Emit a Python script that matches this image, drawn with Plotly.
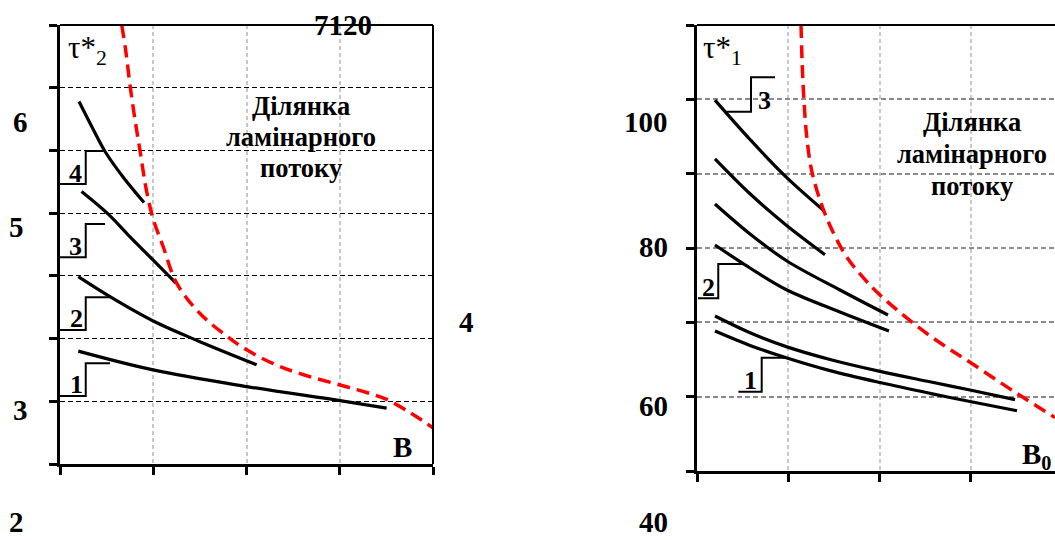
import plotly.graph_objects as go

# ---------------- data ----------------
# Left panel: tau*_2 versus B  (axis units: x 0..4, y 0..7 grid steps)
left_c4_x = [0.204, 0.343, 0.483, 0.676, 0.901]
left_c4_y = [5.781, 5.374, 4.983, 4.577, 4.170]
left_c3_x = [0.231, 0.515, 0.751, 0.965, 1.244]
left_c3_y = [4.345, 3.987, 3.620, 3.301, 2.886]
left_c2_x = [0.196, 0.536, 1.000, 1.501, 2.109]
left_c2_y = [2.987, 2.668, 2.280, 1.950, 1.582]
left_c1_x = [0.196, 1.000, 2.002, 3.003, 3.503]
left_c1_y = [1.800, 1.500, 1.235, 1.010, 0.890]
left_lam_x = [0.662, 0.705, 0.751, 0.804, 0.858, 0.930, 1.001, 1.108, 1.251,
              1.501, 1.787, 2.002, 2.288, 2.574, 3.003, 3.289, 3.503, 3.753, 4.003]
left_lam_y = [7.000, 6.589, 6.039, 5.491, 4.996, 4.338, 3.899, 3.460, 2.883,
              2.400, 2.040, 1.820, 1.600, 1.440, 1.260, 1.140, 1.030, 0.820, 0.574]

# Right panel: tau*_1 versus B0
right_a_x = [0.197, 0.581, 0.964, 1.392]
right_a_y = [99.9, 94.6, 89.7, 85.0]
right_b_x = [0.197, 0.581, 0.986, 1.403]
right_b_y = [92.0, 87.3, 83.0, 79.1]
right_c_x = [0.197, 0.581, 0.986, 1.567, 2.093]
right_c_y = [85.92, 81.89, 78.25, 74.35, 70.99]
right_d_x = [0.197, 0.581, 0.986, 1.567, 2.104]
right_d_y = [80.40, 77.31, 74.35, 71.39, 68.83]
right_e_x = [0.197, 0.581, 0.986, 1.458, 2.005, 2.553, 2.992, 3.485]
right_e_y = [70.85, 68.6, 66.7, 65.0, 63.4, 62.0, 60.9, 59.6]
right_f_x = [0.197, 0.581, 0.986, 1.458, 2.005, 2.553, 2.992, 3.507]
right_f_y = [68.83, 66.9, 65.2, 63.5, 61.9, 60.45, 59.35, 58.1]
right_lam_x = [1.140, 1.154, 1.173, 1.202, 1.257, 1.367, 1.494, 1.641, 1.822,
               2.005, 2.408, 2.699, 2.992, 3.504, 3.923]
right_lam_y = [110.0, 104.34, 99.70, 95.04, 90.40, 85.76, 82.05, 78.79, 76.01,
               73.68, 69.51, 66.95, 64.62, 60.45, 57.20]

left_xticks = [0, 1, 2, 3, 4]
left_yticks = [0, 1, 2, 3, 4, 5, 6, 7]
right_xticks = [0, 1, 2, 3]
right_yticks = [50, 60, 70, 80, 90, 100, 110]

region_lines = ["Ділянка", "ламінарного", "потоку"]

# curve-number callouts: label, label position, step-leader vertices (axis units)
left_callouts = [
    ("4", (0.161, 4.640), [(0.0, 4.465), (0.276, 4.465), (0.276, 4.991), (0.464, 4.991)]),
    ("3", (0.161, 3.465), [(0.0, 3.296), (0.276, 3.296), (0.276, 3.827), (0.483, 3.827)]),
    ("2", (0.172, 2.328), [(0.0, 2.137), (0.276, 2.137), (0.276, 2.658), (0.536, 2.658)]),
    ("1", (0.179, 1.260), [(0.0, 1.084), (0.276, 1.084), (0.276, 1.606), (0.536, 1.606)]),
]
right_callouts = [
    ("3", (0.745, 99.9), [(0.325, 98.34), (0.592, 98.34), (0.592, 102.97), (0.855, 102.97)]),
    ("2", (0.124, 74.62), [(0.011, 73.23), (0.233, 73.23), (0.233, 77.85), (0.507, 77.85)]),
    ("1", (0.581, 62.24), [(0.453, 60.67), (0.709, 60.67), (0.709, 65.24), (0.983, 65.24)]),
]

# ---------------- figure ----------------
W, H = 1055, 540
SERIF = "Liberation Serif"


def pxx(x):
    return x / W


def pxy(y):
    return 1 - y / H


fig = go.Figure()

black = dict(color="black", width=3.2)
for xs, ys in [(left_c4_x, left_c4_y), (left_c3_x, left_c3_y),
               (left_c2_x, left_c2_y), (left_c1_x, left_c1_y)]:
    fig.add_trace(go.Scatter(x=xs, y=ys, mode="lines", line=dict(black, shape="spline"),
                             xaxis="x", yaxis="y", hoverinfo="skip"))
fig.add_trace(go.Scatter(x=left_lam_x, y=left_lam_y, mode="lines",
                         line=dict(color="#ff0000", width=3.5, dash="13px,7px", shape="spline"),
                         xaxis="x", yaxis="y", hoverinfo="skip"))

for xs, ys in [(right_a_x, right_a_y), (right_b_x, right_b_y), (right_c_x, right_c_y),
               (right_d_x, right_d_y), (right_e_x, right_e_y), (right_f_x, right_f_y)]:
    fig.add_trace(go.Scatter(x=xs, y=ys, mode="lines", line=dict(black, shape="spline"),
                             xaxis="x2", yaxis="y2", hoverinfo="skip"))
fig.add_trace(go.Scatter(x=right_lam_x, y=right_lam_y, mode="lines",
                         line=dict(color="#ff0000", width=3.5, dash="13px,7px", shape="spline"),
                         xaxis="x2", yaxis="y2", hoverinfo="skip"))

common = dict(showline=True, linecolor="black", linewidth=3, ticks="outside",
              ticklen=8, tickwidth=3, tickcolor="black", showticklabels=False,
              zeroline=False, showgrid=True, fixedrange=True)

fig.update_layout(
    width=W, height=H, margin=dict(l=0, r=0, t=0, b=0, pad=0),
    paper_bgcolor="white", plot_bgcolor="white", showlegend=False,
    font=dict(family=SERIF, color="black"),
    xaxis=dict(common, domain=[pxx(60), pxx(433)], range=[0, 4], tickvals=left_xticks,
               anchor="y", gridcolor="#c8c8c8", gridwidth=2, griddash="4px,3px"),
    yaxis=dict(common, domain=[pxy(464), pxy(25)], range=[0, 7], tickvals=left_yticks,
               anchor="x", gridcolor="black", gridwidth=1.2, griddash="5px,3px"),
    xaxis2=dict(common, domain=[pxx(697), 1.0], range=[0, (1055 - 697) / 91.25],
                tickvals=right_xticks, anchor="y2", gridcolor="#c8c8c8", gridwidth=2,
                griddash="4px,3px"),
    yaxis2=dict(common, domain=[pxy(471), pxy(25)], range=[50, 110], tickvals=right_yticks,
                anchor="x2", gridcolor="#8a8a8a", gridwidth=1.5, griddash="5px,3px"),
)

shapes = [
    dict(type="line", xref="x domain", yref="y domain", x0=0, x1=1, y0=1, y1=1,
         line=dict(color="black", width=2)),
    dict(type="line", xref="x domain", yref="y domain", x0=1, x1=1, y0=0, y1=1,
         line=dict(color="black", width=2)),
    dict(type="line", xref="x2 domain", yref="y2 domain", x0=0, x1=1, y0=1, y1=1,
         line=dict(color="black", width=2)),
]


def path_of(pts):
    return "M " + " L ".join(f"{x},{y}" for x, y in pts)


annotations = []
for (lab, (lx, ly), pts), (xr, yr) in (
        [(c, ("x", "y")) for c in left_callouts] + [(c, ("x2", "y2")) for c in right_callouts]):
    shapes.append(dict(type="path", xref=xr, yref=yr, path=path_of(pts),
                       line=dict(color="black", width=2)))
    annotations.append(dict(x=lx, y=ly, xref=xr, yref=yr, text=lab,
                            showarrow=False,
                            font=dict(family=SERIF, size=26, color="black", weight="bold"),
                            xanchor="center", yanchor="middle"))


def note(text, x, y, size=29, bold=True, yanchor="middle"):
    annotations.append(dict(x=pxx(x), y=pxy(y), xref="paper", yref="paper",
                            text=text, showarrow=False,
                            font=dict(family=SERIF, size=size, color="black",
                                      weight="bold" if bold else "normal"),
                            xanchor="center", yanchor=yanchor, align="center"))


note("6", 20.5, 122)
note("5", 16, 227)
note("3", 20, 410)
note("2", 16, 540, yanchor="bottom")
note("4", 466, 322)
note("7120", 342.5, 25)
note("B", 402.5, 447)
note("B<sub>0</sub>", 1036, 456)
note("100", 645.5, 122)
note("80", 653, 247)
note("60", 653, 406)
note("40", 653, 540, yanchor="bottom")
note("τ*<sub>2</sub>", 87, 50, size=31, bold=False)
note("τ*<sub>1</sub>", 722, 50, size=31, bold=False)
for i, line in enumerate(region_lines):
    note(line, 301, 106 + 31 * i, size=26.5)
    note(line, 972, 122 + 32 * i, size=26.5)

fig.update_layout(shapes=shapes, annotations=annotations)
fig.write_html("out.html")
